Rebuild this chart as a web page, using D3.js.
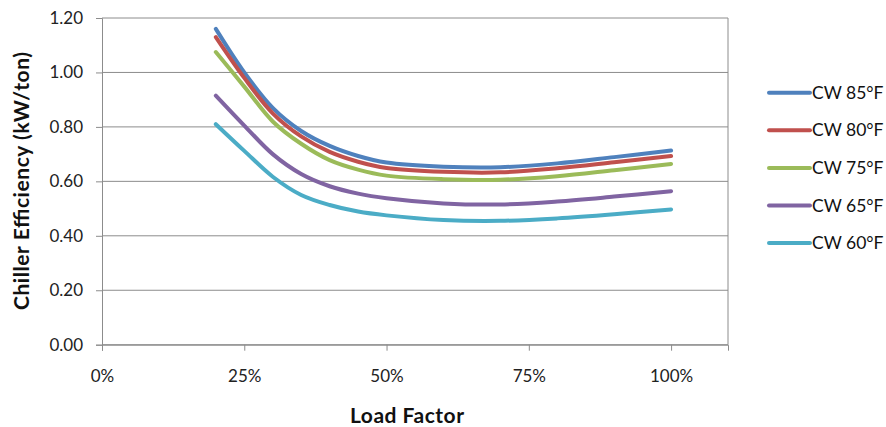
<!DOCTYPE html>
<html><head><meta charset="utf-8">
<script src="https://cdn.jsdelivr.net/npm/d3@7"></script>
<style>body{margin:0;background:#fff}svg{display:block}</style>
</head><body>
<svg id="chart" width="886" height="427"></svg>
<script>
const loadFactor = [0.20, 0.25, 0.30, 0.35, 0.40, 0.45, 0.50, 0.60, 0.70, 0.80, 0.90, 1.00];
const seriesNames = ["CW 85°F", "CW 80°F", "CW 75°F", "CW 65°F", "CW 60°F"];
const cw85 = [1.16, 1.00, 0.87, 0.785, 0.73, 0.693, 0.669, 0.654, 0.652, 0.666, 0.689, 0.713];
const cw80 = [1.13, 0.98, 0.85, 0.765, 0.708, 0.672, 0.649, 0.635, 0.633, 0.648, 0.670, 0.693];
const cw75 = [1.075, 0.948, 0.82, 0.738, 0.678, 0.643, 0.621, 0.608, 0.606, 0.619, 0.641, 0.664];
const cw65 = [0.915, 0.805, 0.70, 0.627, 0.582, 0.555, 0.538, 0.519, 0.515, 0.526, 0.544, 0.564];
const cw60 = [0.81, 0.712, 0.617, 0.55, 0.513, 0.489, 0.475, 0.458, 0.455, 0.464, 0.479, 0.497];
const seriesValues = [cw85, cw80, cw75, cw65, cw60];
const colors = ["#4F81BD", "#C0504D", "#9BBB59", "#8064A2", "#4BACC6"];
const xTicks = [0, 0.25, 0.5, 0.75, 1.0];
const yTicks = [0, 0.2, 0.4, 0.6, 0.8, 1.0, 1.2];
const xTitle = "Load Factor";
const yTitle = "Chiller Efficiency (kW/ton)";

const svg = d3.select("#chart");
const L = 102, R = 728, T = 18, B = 344.7;
const x = d3.scaleLinear().domain([0, 1.1]).range([L, R]);
const y = d3.scaleLinear().domain([0, 1.2]).range([B, T]);
const font = "Lato, 'Open Sans', sans-serif";
const grid = "#8c8c8c";

svg.append("g").selectAll("line").data(yTicks).join("line")
  .attr("x1", L).attr("x2", R)
  .attr("y1", d => y(d)).attr("y2", d => y(d))
  .attr("stroke", grid).attr("stroke-width", 1);
svg.append("line").attr("x1", R).attr("x2", R).attr("y1", T).attr("y2", B)
  .attr("stroke", grid).attr("stroke-width", 1);

const yAxis = svg.append("g").attr("transform", `translate(${L},0)`)
  .call(d3.axisLeft(y).tickValues(yTicks).tickFormat(d3.format(".2f")).tickSize(6).tickPadding(13));
yAxis.select(".domain").attr("stroke", grid);
yAxis.selectAll(".tick line").attr("stroke", grid);
yAxis.selectAll("text").attr("font-family", font).attr("font-size", 17).attr("fill", "#222");

const xAxis = svg.append("g").attr("transform", `translate(0,${B})`)
  .call(d3.axisBottom(x).tickValues(xTicks).tickFormat(d3.format(".0%")).tickSize(6).tickPadding(19));
xAxis.select(".domain").attr("stroke", grid);
xAxis.selectAll(".tick line").attr("stroke", grid);
xAxis.selectAll("text").attr("font-family", font).attr("font-size", 17).attr("fill", "#222");

svg.append("text").attr("x", 407).attr("y", 423).attr("text-anchor", "middle")
  .attr("font-family", font).attr("font-weight", "bold").attr("font-size", 21).attr("fill", "#111")
  .attr("textLength", 114).attr("lengthAdjust", "spacing").text(xTitle);
svg.append("text").attr("transform", "translate(28.5,181) rotate(-90)").attr("text-anchor", "middle")
  .attr("font-family", font).attr("font-weight", "bold").attr("font-size", 21).attr("fill", "#111")
  .attr("textLength", 258).attr("lengthAdjust", "spacing").text(yTitle);

const line = d3.line().x(d => x(d[0])).y(d => y(d[1])).curve(d3.curveCatmullRom.alpha(0.5));
seriesValues.forEach((vals, i) => {
  svg.append("path").datum(loadFactor.map((lf, j) => [lf, vals[j]]))
    .attr("d", line).attr("fill", "none").attr("stroke", colors[i])
    .attr("stroke-width", 4).attr("stroke-linecap", "round");
});

const lg = svg.append("g");
seriesNames.forEach((name, i) => {
  const ly = 92.7 + i * 37.6;
  lg.append("line").attr("x1", 769).attr("x2", 810).attr("y1", ly).attr("y2", ly)
    .attr("stroke", colors[i]).attr("stroke-width", 4).attr("stroke-linecap", "round");
  lg.append("text").attr("x", 812).attr("y", ly + 6).attr("font-family", font)
    .attr("font-size", 17.5).attr("fill", "#111").text(name);
});
</script>
</body></html>
